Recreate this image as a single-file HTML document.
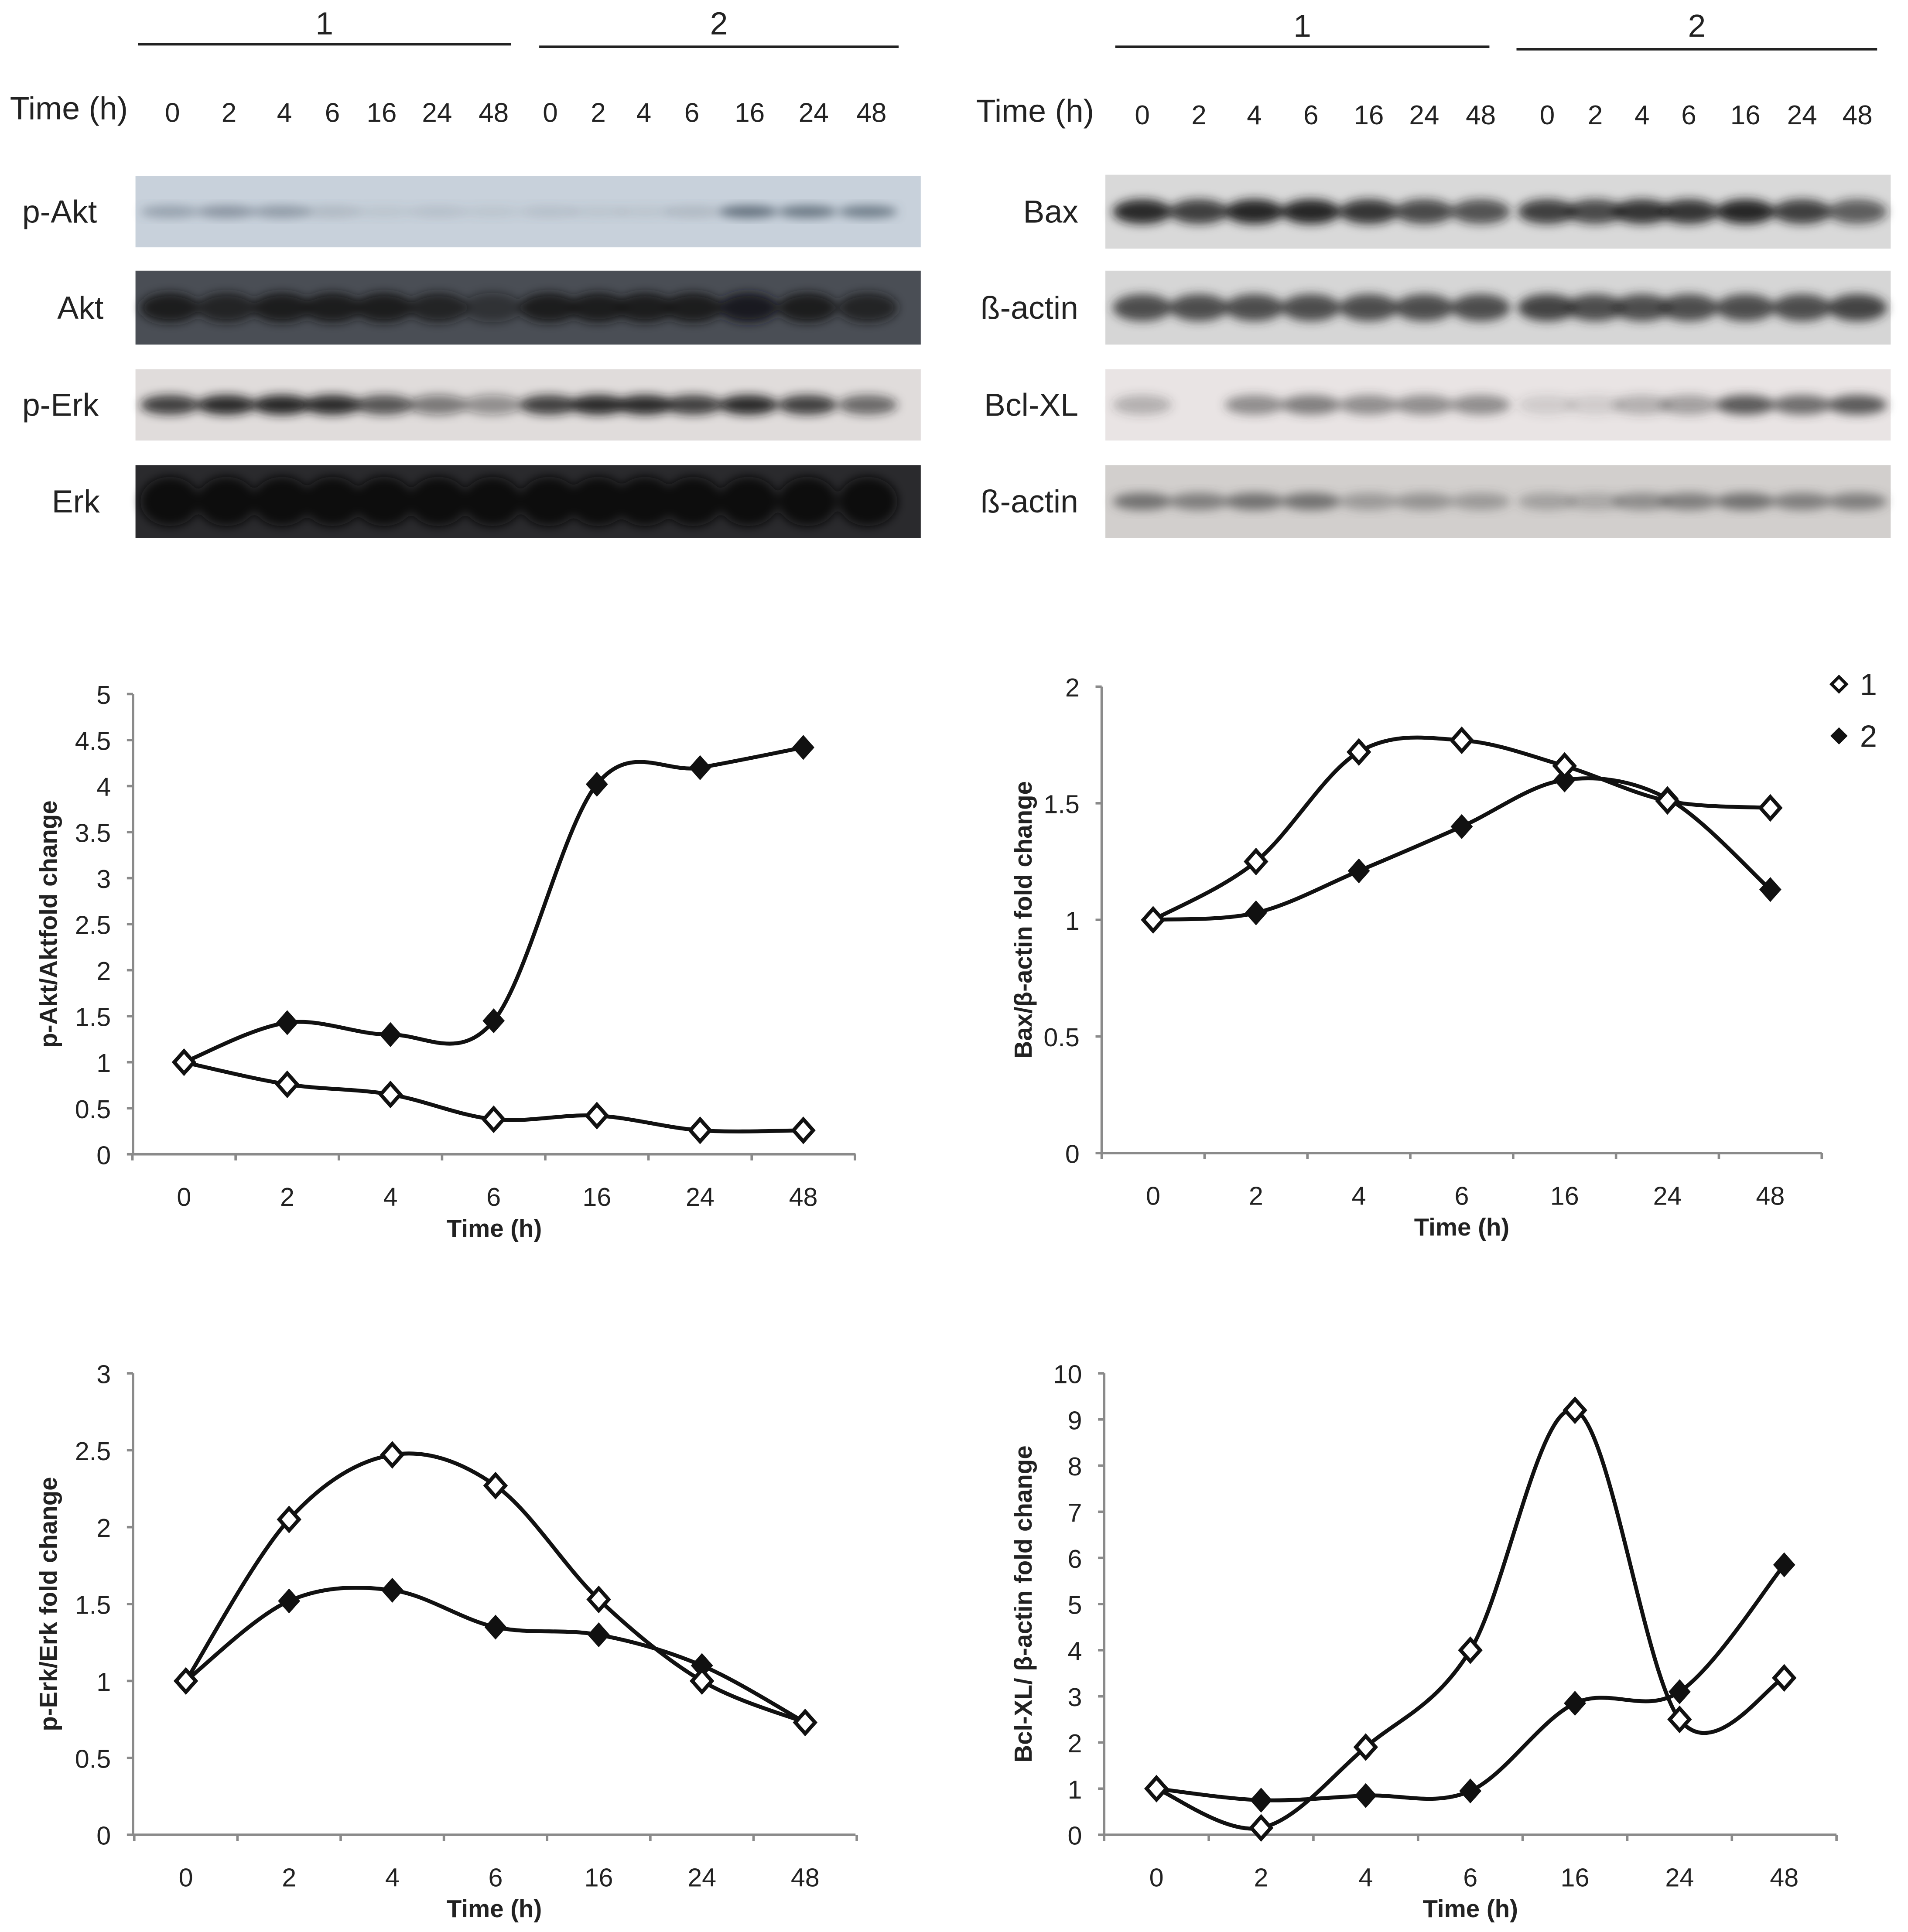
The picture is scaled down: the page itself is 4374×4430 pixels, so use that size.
<!DOCTYPE html>
<html><head><meta charset="utf-8"><style>
html,body{margin:0;padding:0;background:#fff;}
svg{display:block;font-family:"Liberation Sans",Arial,sans-serif;}
</style></head><body>
<svg id="fig" width="4374" height="4430" viewBox="0 0 1550 1570" xmlns="http://www.w3.org/2000/svg">
<defs>
<filter id="blur" x="-20%" y="-50%" width="140%" height="200%"><feGaussianBlur stdDeviation="4"/></filter>
</defs>
<rect width="1550" height="1570" fill="#fff"/>
<g id="blots"></g>
<g id="charts"></g>
</svg>
<script>
// ---------- chart data ----------
const categories = ["0","2","4","6","16","24","48"];
const aktTicks = ["0","0.5","1","1.5","2","2.5","3","3.5","4","4.5","5"];
const aktSeries1 = [1, 0.76, 0.65, 0.38, 0.42, 0.26, 0.26];
const aktSeries2 = [1, 1.43, 1.3, 1.45, 4.02, 4.2, 4.42];
const baxTicks = ["0","0.5","1","1.5","2"];
const baxSeries1 = [1, 1.25, 1.72, 1.77, 1.66, 1.51, 1.48];
const baxSeries2 = [1, 1.03, 1.21, 1.4, 1.6, 1.52, 1.13];
const erkTicks = ["0","0.5","1","1.5","2","2.5","3"];
const erkSeries1 = [1, 2.05, 2.47, 2.27, 1.53, 1.0, 0.73];
const erkSeries2 = [1, 1.52, 1.59, 1.35, 1.3, 1.1, 0.73];
const bclTicks = ["0","1","2","3","4","5","6","7","8","9","10"];
const bclSeries1 = [1, 0.15, 1.9, 4.0, 9.2, 2.5, 3.4];
const bclSeries2 = [1, 0.75, 0.85, 0.95, 2.85, 3.1, 5.85];
const laneLabels = ["0","2","4","6","16","24","48","0","2","4","6","16","24","48"];

const NS = "http://www.w3.org/2000/svg";
function mk(tag, attrs, parent){const e=document.createElementNS(NS,tag);for(const k in attrs)e.setAttribute(k,attrs[k]);if(parent)parent.appendChild(e);return e;}
function txt(parent,x,y,s,size,anchor,weight,extra){const t=mk("text",{x:x,y:y,"font-size":size,"text-anchor":anchor||"start","font-weight":weight||"normal",fill:"#222"},parent);if(extra)for(const k in extra)t.setAttribute(k,extra[k]);t.textContent=s;return t;}

// ---------- blots ----------
const blots = document.getElementById("blots");
function header(x0, lanesX, g1, g2, timeX, yTop){
  let t;
  t=txt(blots,(g1[0]+g1[1])/2,yTop+10,"1",26,"middle");
   
  t=txt(blots,(g2[0]+g2[1])/2,yTop+10,"2",26,"middle");
   
  let l=mk("line",{x1:g1[0],x2:g1[1],y1:yTop+18,y2:yTop+18,stroke:"#222","stroke-width":2},blots);
   
  l=mk("line",{x1:g2[0],x2:g2[1],y1:yTop+20,y2:yTop+20,stroke:"#222","stroke-width":2},blots);
   
  t=txt(blots,timeX,yTop+79,"Time (h)",26,"start");
   
  lanesX.forEach((x,i)=>{
    const n=txt(blots,x,yTop+81,laneLabels[i],22,"middle");
     
  });
}
header(0,[140,186,231,270,310,355,401,447,486,523,562,609,661,708],[112,415],[438,730],8,18);
header(0,[928,974,1019,1065,1112,1157,1203,1257,1296,1334,1372,1418,1464,1509],[906,1210],[1232,1525],793,20);

function blot(name,label,lx,anchor,x0,x1,y0,y1,bg,bandColor,lanes,intens,bh){
  const g=mk("g",{},blots);
   
  mk("rect",{x:x0,y:y0,width:x1-x0,height:y1-y0,fill:bg},g);
  const bg2=mk("g",{filter:"url(#blur)"},g);
  const cy=(y0+y1)/2;
  lanes.forEach((x,i)=>{
    if(intens[i]<=0) return;
    mk("ellipse",{cx:x,cy:cy,rx:24,ry:bh,fill:bandColor,opacity:intens[i]},bg2);
  });
  const t=txt(blots,lx,cy+9,label,26,anchor);
   
}
const L=[138,184,229,270,312,356,400,446,486,524,563,608,656,705];
const R=[928,974,1019,1065,1112,1157,1203,1257,1296,1334,1372,1418,1464,1509];
blot("p-akt-blot","p-Akt",18,"start",110,748,143,201,"#c8d1db","#4a5866",L,[.4,.5,.45,.2,.1,.15,.1,.15,.1,.1,.2,.8,.75,.7],5);
blot("akt-blot","Akt",84,"end",110,748,220,280,"#4a4e55","#15171a",L,[.9,.8,.9,.9,.9,.8,.5,.9,.9,.9,.9,.95,.9,.8],12);
blot("p-erk-blot","p-Erk",18,"start",110,748,300,358,"#e0dcdb","#1a1a1a",L,[.8,.9,.95,.9,.7,.5,.4,.8,.9,.9,.8,.9,.8,.6],8);
blot("erk-blot","Erk",42,"start",110,748,378,437,"#2a2a2d","#0a0a0a",L,[1,1,1,1,1,1,1,1,1,1,1,1,1,1],20);
blot("bax-blot","Bax",876,"end",898,1536,142,202,"#d9d9d9","#1a1a1a",R,[.9,.8,.95,.95,.85,.75,.7,.8,.75,.85,.85,.95,.8,.65],10);
blot("beta-actin-blot-1","ß-actin",876,"end",898,1536,220,280,"#d6d6d6","#2a2a2a",R,[.8,.8,.8,.8,.8,.8,.8,.85,.8,.8,.8,.8,.8,.85],11);
blot("bcl-xl-blot","Bcl-XL",876,"end",898,1536,300,358,"#e9e4e4","#3a3a3a",R,[.3,0,.5,.6,.5,.5,.5,.15,.15,.3,.4,.8,.7,.8],8);
blot("beta-actin-blot-2","ß-actin",876,"end",898,1536,378,437,"#d2cfcd","#4a4a4a",R,[.7,.6,.7,.7,.4,.45,.4,.35,.3,.5,.6,.7,.6,.6],7);

// ---------- charts ----------
const charts=document.getElementById("charts");
function smoothPath(pts){
  let d="M"+pts[0][0]+","+pts[0][1];
  for(let i=0;i<pts.length-1;i++){
    const p0=pts[i-1]||pts[i],p1=pts[i],p2=pts[i+1],p3=pts[i+2]||p2;
    const t=6;
    const c1=[p1[0]+(p2[0]-p0[0])/t,p1[1]+(p2[1]-p0[1])/t];
    const c2=[p2[0]-(p3[0]-p1[0])/t,p2[1]-(p3[1]-p1[1])/t];
    d+=" C"+c1[0]+","+c1[1]+" "+c2[0]+","+c2[1]+" "+p2[0]+","+p2[1];
  }
  return d;
}
function chart(name,cfg,ticks,s1,s2,ytitle){
  const g=mk("g",{},charts);
   
  const ymax=parseFloat(ticks[ticks.length-1]);
  const yS=v=>cfg.y0-(v/ymax)*(cfg.y0-cfg.yTop);
  const step=(cfg.xEnd-cfg.x0)/categories.length;
  const xS=i=>cfg.x0+step*(i+0.5)+cfg.dx;
  const ax=mk("path",{d:"M"+cfg.x0+","+cfg.yTop+" V"+cfg.y0+" H"+cfg.xEnd,stroke:"#8a8a8a","stroke-width":2,fill:"none"},g);
   
  ticks.forEach(tk=>{
    const y=yS(parseFloat(tk));
    mk("line",{x1:cfg.x0-5,x2:cfg.x0,y1:y,y2:y,stroke:"#8a8a8a","stroke-width":2},g);
    const t=txt(g,cfg.x0-18,y+8,tk,21,"end");
     
  });
  for(let i=0;i<=categories.length;i++){
    const x=cfg.x0+step*i+cfg.dx;
    mk("line",{x1:x,x2:x,y1:cfg.y0,y2:cfg.y0+5,stroke:"#8a8a8a","stroke-width":2},g);
  }
  categories.forEach((c,i)=>{
    const t=txt(g,xS(i),cfg.y0+42,c,21,"middle");
     
  });
  let t=txt(g,(cfg.x0+cfg.xEnd)/2,cfg.y0+67,"Time (h)",20,"middle","bold");
   
  const ty=(cfg.yTop+cfg.y0)/2;
  t=txt(g,cfg.tx,ty,ytitle,20,"middle","bold",{transform:"rotate(-90 "+cfg.tx+" "+ty+")"});
   
  [[s2,"#111","series-2"],[s1,"#fff","series-1"]].forEach(([s,fill,nm])=>{
    const pts=s.map((v,i)=>[xS(i),yS(v)]);
    const p=mk("path",{d:smoothPath(pts),stroke:"#111","stroke-width":3.2,fill:"none"},g);
     
    pts.forEach(pt=>{
      const m=mk("path",{d:"M"+pt[0]+","+(pt[1]-9)+" l8,9 l-8,9 l-8,-9 z",fill:fill,stroke:"#111","stroke-width":fill=="#fff"?3:1.5},g);
       
    });
  });
}
chart("p-akt-chart",{x0:108,xEnd:695,y0:938,yTop:564,dx:-0.5,tx:46},aktTicks,aktSeries1,aktSeries2,"p-Akt/Aktfold change");
chart("bax-chart",{x0:895,xEnd:1480,y0:937,yTop:558,dx:0,tx:838},baxTicks,baxSeries1,baxSeries2,"Bax/β-actin fold change");
chart("p-erk-chart",{x0:108,xEnd:695,y0:1491,yTop:1116,dx:1,tx:46},erkTicks,erkSeries1,erkSeries2,"p-Erk/Erk fold change");
chart("bcl-xl-chart",{x0:897,xEnd:1492,y0:1491,yTop:1116,dx:0,tx:838},bclTicks,bclSeries1,bclSeries2,"Bcl-XL/ β-actin fold change");

// legend
const lg=mk("g",{},charts);
 
let lm=mk("path",{d:"M1494,550 l6,6 l-6,6 l-6,-6 z",fill:"#fff",stroke:"#111","stroke-width":2.5},lg);
 
let lt=txt(lg,1511,565,"1",25,"start");
 
lm=mk("path",{d:"M1494,591 l7,7 l-7,7 l-7,-7 z",fill:"#111"},lg);
 
lt=txt(lg,1511,607,"2",25,"start");
 
</script>
</body></html>
